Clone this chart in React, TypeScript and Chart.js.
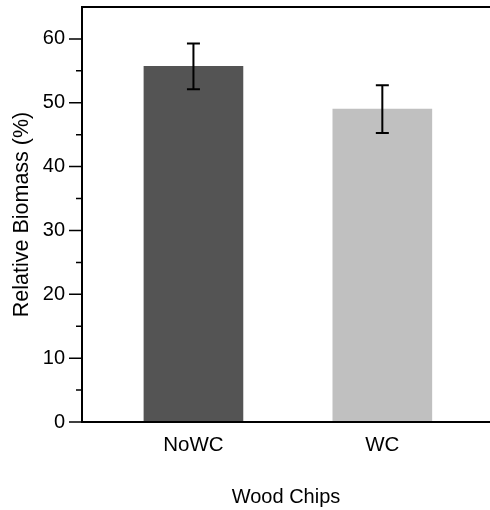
import React, { useEffect, useRef } from "react";
import { Chart, registerables } from "chart.js";

Chart.register(...registerables);

const categories = ["NoWC", "WC"];
const categoryPositions = [1, 2];
const biomass = [55.7, 49.0];
const stdError = [3.6, 3.75];
const yMajorTicks = [0, 10, 20, 30, 40, 50, 60];
const yMinorTicks = [5, 15, 25, 35, 45, 55];
const barColors = ["#545454", "#c0c0c0"];

const FONT = "'Liberation Sans', Arial, Helvetica, sans-serif";

const framePlugin = {
  id: "frame",
  afterDatasetsDraw(chart: any) {
    const { ctx, chartArea, scales } = chart;
    const y = scales.y;
    const x = scales.x;
    ctx.save();
    // error bars
    ctx.strokeStyle = "#000";
    ctx.lineWidth = 2;
    biomass.forEach((v, i) => {
      const px = x.getPixelForValue(categoryPositions[i]);
      const top = y.getPixelForValue(v + stdError[i]);
      const bot = y.getPixelForValue(v - stdError[i]);
      ctx.beginPath();
      ctx.moveTo(px, top);
      ctx.lineTo(px, bot);
      ctx.moveTo(px - 6.5, top);
      ctx.lineTo(px + 6.5, top);
      ctx.moveTo(px - 6.5, bot);
      ctx.lineTo(px + 6.5, bot);
      ctx.stroke();
    });
    // frame lines
    ctx.lineWidth = 2;
    ctx.beginPath();
    ctx.moveTo(chartArea.left, chartArea.top);
    ctx.lineTo(chartArea.left, chartArea.bottom);
    ctx.moveTo(chartArea.left - 1, chartArea.bottom);
    ctx.lineTo(chartArea.right, chartArea.bottom);
    ctx.moveTo(chartArea.left - 1, chartArea.top);
    ctx.lineTo(chartArea.right, chartArea.top);
    ctx.stroke();
    // y ticks
    ctx.lineWidth = 1.5;
    ctx.beginPath();
    yMajorTicks.forEach((v) => {
      const py = y.getPixelForValue(v);
      ctx.moveTo(chartArea.left - 13, py);
      ctx.lineTo(chartArea.left, py);
    });
    yMinorTicks.forEach((v) => {
      const py = y.getPixelForValue(v);
      ctx.moveTo(chartArea.left - 6, py);
      ctx.lineTo(chartArea.left, py);
    });
    ctx.stroke();
    ctx.restore();
  },
};

export default function App() {
  const ref = useRef<HTMLCanvasElement | null>(null);
  useEffect(() => {
    if (!ref.current) return;
    const chart = new Chart(ref.current, {
      type: "bar",
      data: {
        datasets: [
          {
            data: categoryPositions.map((p, i) => ({ x: p, y: biomass[i] })),
            backgroundColor: barColors,
            borderWidth: 0,
            barThickness: 99,
          },
        ],
      },
      options: {
        animation: false,
        responsive: false,
        maintainAspectRatio: false,
        events: [],
        layout: { padding: { top: 7, right: 0, left: 0, bottom: 0 } },
        plugins: { legend: { display: false }, tooltip: { enabled: false } },
        scales: {
          x: {
            type: "linear",
            offset: false,
            min: 0.41,
            max: 2.57,
            grid: { display: false, drawTicks: false, offset: false },
            border: { display: false },
            afterBuildTicks: (scale: any) => {
              scale.ticks = categoryPositions.map((v) => ({ value: v }));
            },
            afterFit: (scale: any) => {
              scale.height = 88;
              scale.paddingLeft = 0;
              scale.paddingRight = 0;
            },
            ticks: {
              autoSkip: false,
              maxRotation: 0,
              padding: 11,
              color: "#000",
              font: { family: FONT, size: 20.5 },
              callback: (v: any) => {
                const i = categoryPositions.indexOf(Number(v));
                return i >= 0 ? categories[i] : "";
              },
            },
            title: {
              display: true,
              text: "Wood Chips",
              color: "#000",
              font: { family: FONT, size: 20 },
              padding: { top: 0, bottom: 1 },
            },
          },
          y: {
            type: "linear",
            min: 0,
            max: 65,
            grid: { display: false, drawTicks: false },
            border: { display: false },
            afterBuildTicks: (scale: any) => {
              scale.ticks = yMajorTicks.map((v) => ({ value: v }));
            },
            afterFit: (scale: any) => {
              scale.width = 82;
              scale.paddingTop = 0;
              scale.paddingBottom = 0;
            },
            ticks: {
              padding: 17,
              color: "#000",
              font: { family: FONT, size: 20 },
            },
            title: {
              display: true,
              text: "Relative Biomass (%)",
              color: "#000",
              font: { family: FONT, size: 21.5 },
              padding: { top: 9, bottom: 0 },
            },
          },
        },
      },
      plugins: [framePlugin],
    });
    return () => chart.destroy();
  }, []);
  return (
    <div style={{ position: "absolute", left: 0, top: 0, width: 490, height: 510, background: "#fff" }}>
      <canvas ref={ref} width={490} height={510} style={{ display: "block", width: 490, height: 510 }} />
    </div>
  );
}
